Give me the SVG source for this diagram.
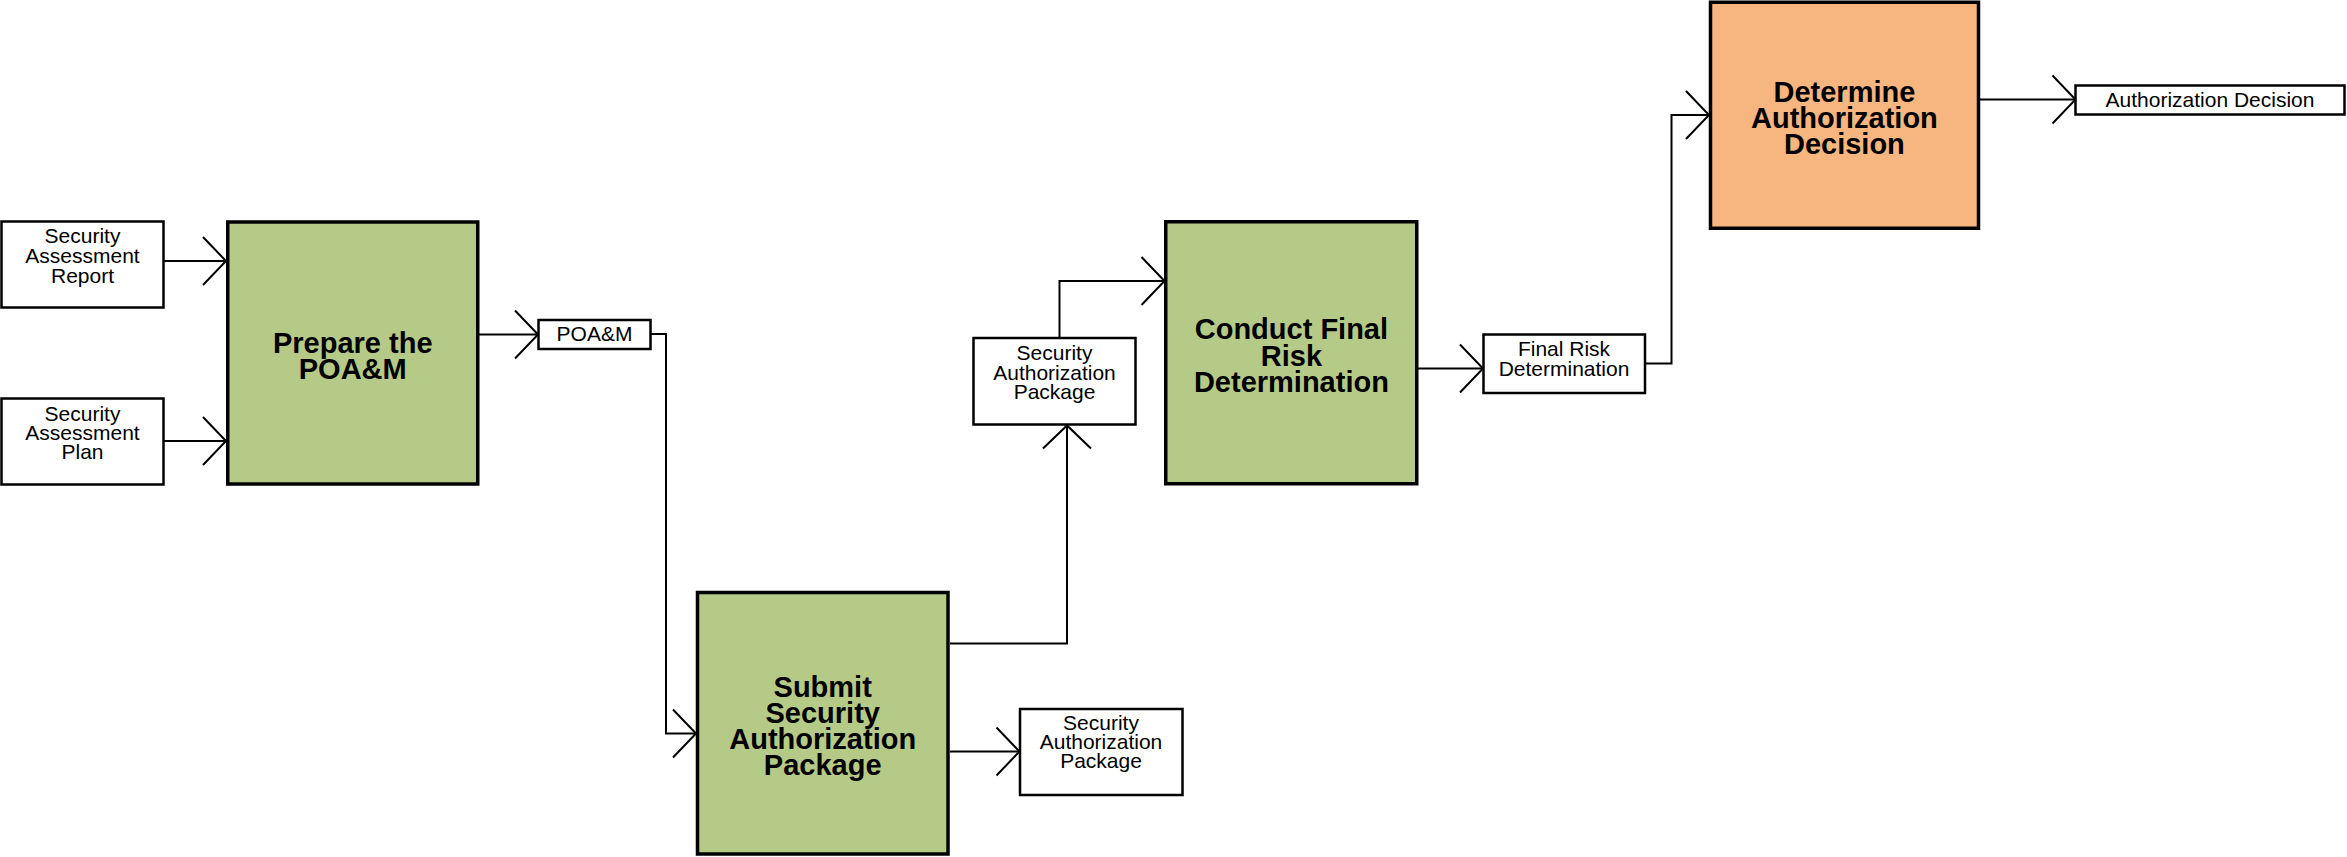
<svg xmlns="http://www.w3.org/2000/svg" width="2347" height="857" viewBox="0 0 2347 857">
<style>
.proc{stroke:#000;stroke-width:3.5}
.green{fill:#B6CA87}
.orange{fill:#F7B57F}
.doc{fill:#fff;stroke:#000;stroke-width:2.5}
.pt{font-family:"Liberation Sans",Arial,sans-serif;font-weight:bold;font-size:29px;fill:#000;text-anchor:middle}
.dt{font-family:"Liberation Sans",Arial,sans-serif;font-size:21px;fill:#000;text-anchor:middle}
.conn{fill:none;stroke:#000;stroke-width:2}
</style>
<defs>
<marker id="arr" markerUnits="userSpaceOnUse" markerWidth="30" markerHeight="54" refX="26" refY="27" orient="auto" overflow="visible">
<path d="M3,3 L26,27 L3,51" fill="none" stroke="#000" stroke-width="2"/>
</marker>
</defs>
<rect width="2347" height="857" fill="#fff"/>
<g id="connectors">
<path class="conn" d="M164,261 H226" marker-end="url(#arr)"/>
<path class="conn" d="M164,441 H226" marker-end="url(#arr)"/>
<path class="conn" d="M479,334.5 H538" marker-end="url(#arr)"/>
<path class="conn" d="M651,334 H666 V733.5 H696" marker-end="url(#arr)"/>
<path class="conn" d="M950,751.5 H1019.5" marker-end="url(#arr)"/>
<path class="conn" d="M950,643.5 H1067 V425.5" marker-end="url(#arr)"/>
<path class="conn" d="M1059.5,337 V281 H1164.5" marker-end="url(#arr)"/>
<path class="conn" d="M1418,368.5 H1483" marker-end="url(#arr)"/>
<path class="conn" d="M1646,363.5 H1671.5 V115 H1709" marker-end="url(#arr)"/>
<path class="conn" d="M1980,99.5 H2075.5" marker-end="url(#arr)"/>
</g>
<g id="sar">
<rect class="doc" x="1.5" y="221.5" width="162" height="86"/>
<text class="dt" x="82.5" y="243.3">Security</text>
<text class="dt" x="82.5" y="263.3">Assessment</text>
<text class="dt" x="82.5" y="282.7">Report</text>
</g>
<g id="sap">
<rect class="doc" x="1.5" y="398.5" width="162" height="86"/>
<text class="dt" x="82.5" y="420.7">Security</text>
<text class="dt" x="82.5" y="440">Assessment</text>
<text class="dt" x="82.5" y="459.3">Plan</text>
</g>
<g id="prepare">
<rect class="proc green" x="227.75" y="222" width="250" height="262"/>
<text class="pt" x="352.75" y="352.7">Prepare the</text>
<text class="pt" x="352.75" y="378.7">POA&amp;M</text>
</g>
<g id="poam">
<rect class="doc" x="538.5" y="320" width="112" height="29"/>
<text class="dt" x="594.5" y="340.7">POA&amp;M</text>
</g>
<g id="submit">
<rect class="proc green" x="697.5" y="592.5" width="250.5" height="261.5"/>
<text class="pt" x="822.7" y="696.7">Submit</text>
<text class="pt" x="822.7" y="722.7">Security</text>
<text class="pt" x="822.7" y="749.3">Authorization</text>
<text class="pt" x="822.7" y="775">Package</text>
</g>
<g id="sap-out">
<rect class="doc" x="1020" y="709" width="162.5" height="86"/>
<text class="dt" x="1101" y="730">Security</text>
<text class="dt" x="1101" y="749.3">Authorization</text>
<text class="dt" x="1101" y="768.3">Package</text>
</g>
<g id="sap-in">
<rect class="doc" x="973.5" y="338" width="162" height="86.5"/>
<text class="dt" x="1054.5" y="360">Security</text>
<text class="dt" x="1054.5" y="380">Authorization</text>
<text class="dt" x="1054.5" y="399.3">Package</text>
</g>
<g id="conduct">
<rect class="proc green" x="1165.75" y="221.75" width="251" height="262"/>
<text class="pt" x="1291.4" y="339">Conduct Final</text>
<text class="pt" x="1291.4" y="365.7">Risk</text>
<text class="pt" x="1291.4" y="392.3">Determination</text>
</g>
<g id="frd">
<rect class="doc" x="1483.5" y="334.5" width="161.5" height="58.5"/>
<text class="dt" x="1564" y="356">Final Risk</text>
<text class="dt" x="1564" y="375.7">Determination</text>
</g>
<g id="determine">
<rect class="proc orange" x="1710.5" y="2.25" width="268" height="226"/>
<text class="pt" x="1844.4" y="101.7">Determine</text>
<text class="pt" x="1844.4" y="128.3">Authorization</text>
<text class="pt" x="1844.4" y="154.3">Decision</text>
</g>
<g id="ad">
<rect class="doc" x="2075.5" y="85.5" width="269" height="29"/>
<text class="dt" x="2210" y="106.7">Authorization Decision</text>
</g>
</svg>
